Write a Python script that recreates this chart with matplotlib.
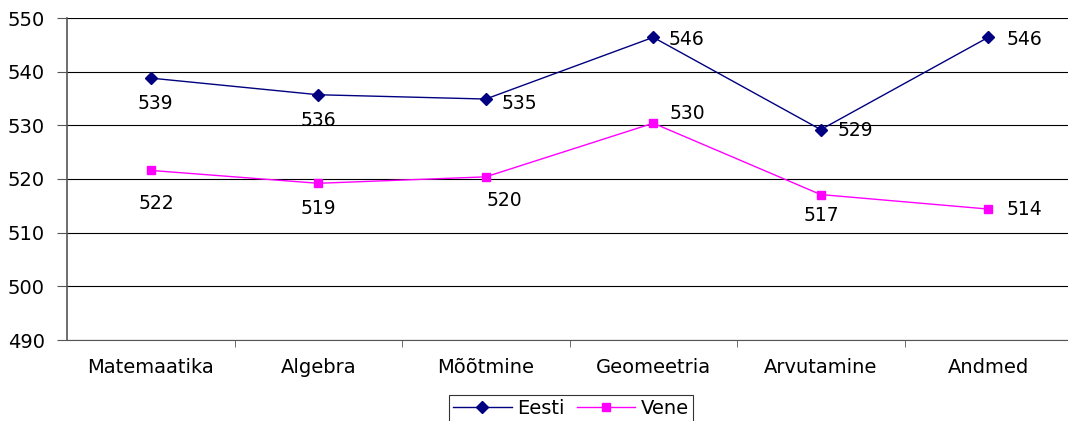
import matplotlib.pyplot as plt
import numpy as np

plt.rcParams['font.family'] = ['DejaVu Sans']

# Data
categories = ['Matemaatika', 'Algebra', 'Mõõtmine', 'Geomeetria', 'Arvutamine', 'Andmed']
eesti = [538.8, 535.7, 534.9, 546.4, 529.2, 546.4]
vene = [521.6, 519.2, 520.4, 530.4, 517.1, 514.4]

# label offsets in pixels (dx, dy) relative to each marker
eesti_offsets = [(5, -25), (0, -26), (34, -4), (33, -2), (35, -1), (36, -2)]
vene_offsets = [(6, -33), (0, -25), (19, -24), (34, 10), (1, -21), (36, 0)]

fig = plt.figure(figsize=(10.68, 4.21), dpi=100)
ax = fig.add_axes([67 / 1068, 1 - 340 / 421, 1005 / 1068, 322 / 421])

x = np.arange(len(categories))
ax.plot(x, eesti, color='#000080', marker='D', markersize=6, linewidth=1, label='Eesti')
ax.plot(x, vene, color='#FF00FF', marker='s', markersize=6, linewidth=1, label='Vene')

for xi, v, (dx, dy) in zip(x, eesti, eesti_offsets):
    ax.annotate(f"{round(v)}", (xi, v), xytext=(dx, dy), textcoords='offset pixels',
                ha='center', va='center', fontsize=13.5)
for xi, v, (dx, dy) in zip(x, vene, vene_offsets):
    ax.annotate(f"{round(v)}", (xi, v), xytext=(dx, dy), textcoords='offset pixels',
                ha='center', va='center', fontsize=13.5)

ax.set_xlim(-0.5, len(categories) - 0.5)
ax.set_ylim(490, 550)
ax.set_yticks(range(490, 551, 10))
ax.set_xticks(x)
ax.set_xticklabels(categories)
ax.set_xticks(x[:-1] + 0.5, minor=True)
ax.tick_params(axis='x', which='major', length=0, pad=13, labelsize=14)
ax.tick_params(axis='x', which='minor', length=5, direction='out', color='#555555')
ax.tick_params(axis='y', length=7, labelsize=14, color='#555555', pad=9)
ax.grid(axis='y', color='black', linewidth=0.8)
ax.set_axisbelow(True)

for side in ['top', 'right']:
    ax.spines[side].set_visible(False)
ax.spines['left'].set_color('#555555')
ax.spines['bottom'].set_color('#555555')
ax.spines['left'].set_linewidth(1.2)

leg = fig.legend(loc='upper center', bbox_to_anchor=(571 / 1068, 1 - 395 / 421), ncol=2,
                 fontsize=14, frameon=True, fancybox=False, edgecolor='black',
                 handlelength=3, columnspacing=0.6, handletextpad=0.3, borderpad=0.2,
                 borderaxespad=0)
leg.get_frame().set_linewidth(0.8)

fig.savefig('out.png', dpi=100)
